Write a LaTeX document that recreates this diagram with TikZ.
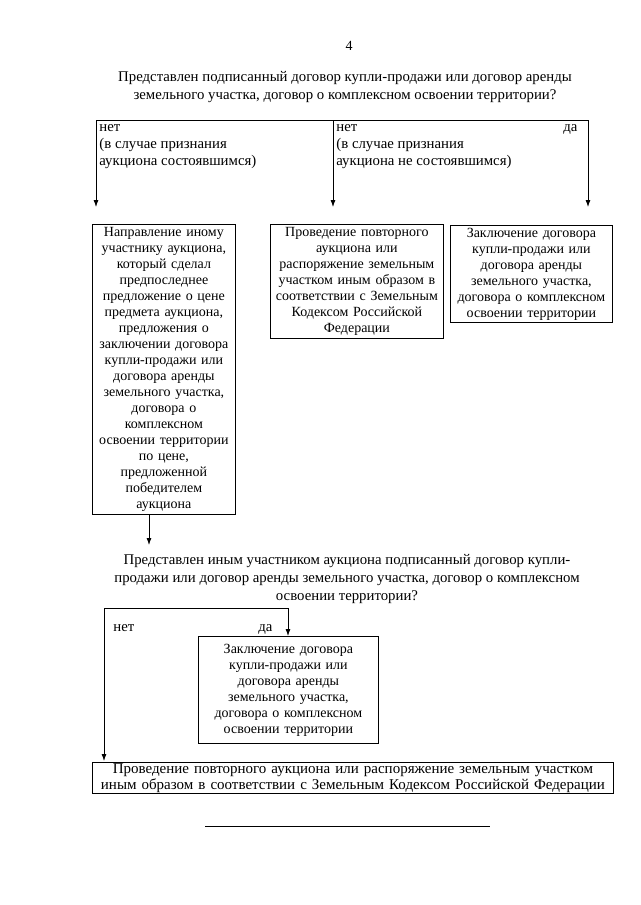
\documentclass[tikz,border=0pt]{standalone}
\usepackage{fontspec}
\setmainfont{Liberation Serif}
\usetikzlibrary{arrows.meta}
\newcommand\myfs{\fontsize{14}{16}\selectfont}
\newcommand\myfst{\fontsize{14.8}{18.5}\selectfont}
\begin{document}
\begin{tikzpicture}[x=1pt,y=-1pt, line width=0.8pt,
  box/.style={draw, inner sep=0pt, align=center, anchor=north west, font=\myfs},
  lbl/.style={inner sep=0pt, anchor=north west, align=left, font=\fontsize{14.8}{17}\selectfont},
  ttl/.style={inner sep=0pt, align=center, font=\myfst},
  arr/.style={-{Latex[length=7pt,width=5pt]}}]
\useasboundingbox (0,0) rectangle (640,905);

\node[inner sep=0pt, font=\myfs] (pg) at (349,46) {4};
\node[ttl] (q1) at (345,87) {Представлен подписанный договор купли-продажи или договор аренды\\земельного участка, договор о комплексном освоении территории?};

% branch coordinates
\coordinate (j1) at (96,120);
\coordinate (j2) at (333,120);
\coordinate (j3) at (588,120);
\coordinate (e1) at (96,207);
\coordinate (e2) at (333,207);
\coordinate (e3) at (588,207);
\draw (j1) -- (j3);
\draw[arr] (j1) -- (e1);
\draw[arr] (j2) -- (e2);
\draw[arr] (j3) -- (e3);

\node[lbl] (l1) at (99,124) {нет\\(в случае признания\\аукциона состоявшимся)};
\node[lbl] (l2) at (336,124) {нет\\(в случае признания\\аукциона не состоявшимся)};
\node[lbl] (l3) at (563,124) {да};

\node[box, minimum width=143pt, minimum height=290pt, text width=143pt] (b1) at (92,224)
 {Направление иному\\участнику аукциона,\\который сделал\\предпоследнее\\предложение о цене\\предмета аукциона,\\предложения о\\заключении договора\\купли-продажи или\\договора аренды\\земельного участка,\\договора о\\комплексном\\освоении территории\\по цене,\\предложенной\\победителем\\аукциона};
\node[box, minimum width=173pt, minimum height=114pt, text width=173pt] (b2) at (270,224)
 {Проведение повторного\\аукциона или\\распоряжение земельным\\участком иным образом в\\соответствии с Земельным\\Кодексом Российской\\Федерации};
\node[box, minimum width=162pt, minimum height=97pt, text width=162pt] (b3) at (450,225)
 {Заключение договора\\купли-продажи или\\договора аренды\\земельного участка,\\договора о комплексном\\освоении территории};

\coordinate (s1) at (149,514);
\coordinate (t1) at (149,545);
\draw[arr] (s1) -- (t1);

\node[ttl, font=\fontsize{14.8}{18}\selectfont] (q2) at (347,579) {Представлен иным участником аукциона подписанный договор купли-\\продажи или договор аренды земельного участка, договор о комплексном\\освоении территории?};

\coordinate (k1) at (104,608);
\coordinate (k2) at (288,608);
\coordinate (f2) at (288,636);
\coordinate (f1) at (104,761);
\draw (k1) -- (k2);
\draw[arr] (k2) -- (f2);
\draw[arr] (k1) -- (f1);
\node[lbl] (n2) at (113,624) {нет};
\node[lbl] (d2) at (258,624) {да};

\node[box, minimum width=180pt, minimum height=107pt, text width=180pt] (b4) at (198,636)
 {Заключение договора\\купли-продажи или\\договора аренды\\земельного участка,\\договора о комплексном\\освоении территории};
\node[box, minimum width=521pt, minimum height=31pt, text width=521pt, font=\fontsize{15}{16}\selectfont] (b5) at (92,762)
 {Проведение повторного аукциона или распоряжение земельным участком\\иным образом в соответствии с Земельным Кодексом Российской Федерации};

\coordinate (r1) at (205,826);
\coordinate (r2) at (490,826);
\draw (r1) -- (r2);
\end{tikzpicture}
\end{document}
